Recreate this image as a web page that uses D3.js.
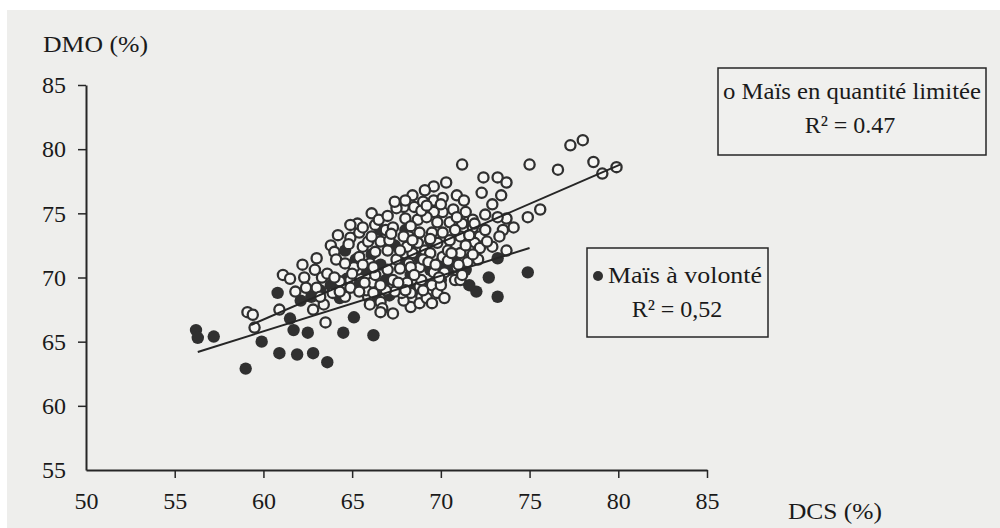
<!DOCTYPE html>
<html>
<head>
<meta charset="utf-8">
<script src="https://cdn.jsdelivr.net/npm/d3@7"></script>
<style>
  html, body { margin: 0; padding: 0; background: #ffffff; }
  svg { display: block; }
  text { font-family: "Liberation Serif", "Times New Roman", serif; fill: #1a1a1a; }
</style>
</head>
<body>
<svg id="chart" width="1000" height="528"></svg>
<script>
// ---- Data ----
const xTicks = [50, 55, 60, 65, 70, 75, 80, 85];
const yTicks = [55, 60, 65, 70, 75, 80, 85];

// Maïs en quantité limitée (open circles)
const limiteeDCS = [
  71.2, 75.0, 76.6, 77.3, 78.0, 78.6, 79.1, 79.9, 75.6, 74.9,
  72.4, 73.2, 73.7, 73.4, 72.3, 72.9, 73.7, 73.2, 72.5, 73.5,
  74.1, 73.3, 72.9, 73.7, 70.3, 69.6, 68.4, 70.9, 71.3, 68.5,
  69.0, 69.6, 70.1, 70.7, 71.4, 71.8, 70.1, 69.6, 67.9, 68.0,
  68.7, 69.2, 69.8, 70.5, 71.2, 71.8, 72.2, 71.9, 72.2, 71.6,
  71.1, 71.5, 70.9, 70.8, 70.2, 69.6, 68.8, 68.4, 69.1, 69.8,
  70.5, 71.1, 70.1, 69.5, 68.8, 68.2, 68.1, 68.7, 69.4, 70.1,
  68.2, 68.8, 69.5, 68.3, 68.9, 68.3, 68.1, 71.1, 63.8, 64.0,
  64.1, 64.9, 65.4, 65.3, 66.1, 66.3, 62.9, 63.3, 62.3, 63.6,
  63.9, 63.4, 62.8, 63.5, 67.5, 66.9, 67.3, 65.6, 65.4, 65.3,
  66.0, 66.1, 67.0, 67.5, 67.0, 68.3, 67.3, 67.9, 68.8, 66.6,
  66.7, 65.9, 64.9, 65.1, 66.6, 67.9, 68.4, 67.7, 69.0, 68.9,
  61.1, 61.8, 59.1, 59.5, 60.9, 59.4, 64.9, 64.6, 65.8, 66.2,
  66.6, 67.3, 67.8, 69.2, 69.8, 67.1, 67.4, 66.3, 65.7, 66.9,
  70.0, 70.4, 70.8, 71.4, 70.0, 69.1, 69.3, 68.5, 65.4, 64.3,
  64.6, 65.9, 66.3, 66.0, 69.5, 70.2, 71.6, 72.5, 72.1, 64.9,
  64.2, 67.4,
  63.0, 64.0, 64.8, 65.6, 66.5, 67.0, 68.0, 68.9, 69.4, 70.4,
  71.0, 71.8, 72.6, 71.2, 69.9, 69.0, 68.0, 67.6, 66.6, 66.2,
  65.0, 64.3, 63.2, 62.4, 61.5, 62.2, 63.0, 65.6, 67.7, 69.7,
  70.6, 71.9, 70.9, 69.2, 68.3, 67.2, 66.1
];
const limiteeDMO = [
  78.8, 78.8, 78.4, 80.3, 80.7, 79.0, 78.1, 78.6, 75.3, 74.7,
  77.8, 77.8, 77.4, 76.4, 76.6, 75.7, 74.6, 74.7, 74.9, 73.7,
  73.9, 73.2, 72.4, 72.1, 77.4, 77.1, 76.4, 76.4, 76.0, 75.5,
  75.9, 76.0, 76.2, 75.3, 75.1, 74.5, 75.1, 75.1, 75.5, 74.6,
  74.5, 74.7, 74.3, 74.3, 74.2, 73.9, 73.2, 72.7, 72.3, 72.1,
  71.9, 71.2, 70.8, 69.8, 70.4, 70.4, 70.8, 71.9, 72.1, 72.7,
  72.9, 73.2, 73.5, 73.5, 73.5, 73.2, 72.4, 72.7, 71.9, 71.6,
  71.1, 69.3, 69.4, 68.8, 68.5, 67.7, 69.6, 69.8, 72.5, 72.0,
  71.4, 73.1, 73.5, 74.2, 75.0, 74.1, 70.6, 70.0, 70.0, 70.3,
  68.8, 67.9, 67.5, 66.5, 75.4, 73.7, 73.9, 72.4, 71.6, 70.6,
  71.1, 69.6, 72.1, 71.4, 70.6, 70.8, 69.8, 68.2, 68.0, 68.1,
  67.6, 68.5, 69.8, 70.8, 72.8, 73.2, 72.9, 72.1, 71.4, 69.8,
  70.2, 68.9, 67.3, 66.1, 67.5, 67.1, 69.2, 68.5, 69.0, 68.8,
  67.3, 67.2, 68.8, 68.4, 68.8, 72.9, 68.9, 70.2, 69.6, 69.0,
  69.4, 72.1, 73.7, 72.5, 75.7, 76.8, 71.2, 70.2, 68.9, 69.7,
  71.1, 72.8, 72.0, 67.9, 68.0, 68.4, 73.3, 73.7, 71.4, 74.1,
  73.3, 75.9,
  69.2, 70.0, 72.6, 73.9, 74.5, 74.8, 76.0, 75.2, 73.0, 71.3,
  71.0, 71.8, 72.8, 70.2, 70.0, 69.0, 69.0, 69.6, 69.4, 70.8,
  70.3, 68.9, 68.5, 69.2, 69.9, 71.0, 71.5, 71.0, 70.7, 71.0,
  71.9, 74.2, 74.7, 75.6, 74.0, 73.4, 73.2
];

// Maïs à volonté (filled circles)
const volonteDCS = [
  56.2, 56.3, 57.2, 59.0, 59.9, 60.8, 60.9, 61.9, 62.8, 63.6,
  61.5, 61.7, 62.5, 64.5, 62.7, 65.1, 64.7, 66.2, 72.7, 72.0,
  73.2, 74.9, 73.2,
  65.2, 65.7, 66.1, 66.6, 66.9, 67.4, 67.7, 68.3, 68.8, 69.1,
  69.4, 70.0, 67.7, 67.1, 68.5, 70.0, 70.5, 70.8, 65.4, 66.3,
  64.6, 66.6, 68.0, 69.4, 71.4, 71.6, 63.8, 63.2, 62.1, 64.3
];
const volonteDMO = [
  65.9, 65.3, 65.4, 62.9, 65.0, 68.8, 64.1, 64.0, 64.1, 63.4,
  66.8, 65.9, 65.7, 65.7, 68.5, 66.9, 69.9, 65.5, 70.0, 68.9,
  68.5, 70.4, 71.5,
  71.4, 70.6, 71.8, 71.0, 69.8, 72.5, 71.2, 70.2, 71.5, 69.4,
  70.6, 71.2, 69.4, 68.6, 69.0, 69.8, 70.6, 71.8, 69.4, 68.6,
  72.1, 73.7, 73.7, 72.9, 70.6, 69.4, 69.4, 69.0, 68.2, 68.4
];

// Regression lines (end points)
const limiteeLineDCS = [59.3, 80.1];
const limiteeLineDMO = [66.3, 78.8];
const volonteLineDCS = [56.3, 75.0];
const volonteLineDMO = [64.2, 72.3];

const legendLimitee = ["o Maïs en quantité limitée", "R² = 0.47"];
const legendVolonte = ["Maïs à volonté", "R² = 0,52"];
const xTitle = "DCS (%)";
const yTitle = "DMO (%)";

// ---- Drawing ----
const svg = d3.select("#chart");
const ink = "#262626";

svg.append("rect").attr("x", 7).attr("y", 10).attr("width", 993).attr("height", 518)
  .attr("fill", "#eeeeec");

const x = d3.scaleLinear().domain([50, 85]).range([86, 707]);
const y = d3.scaleLinear().domain([55, 85]).range([470, 85]);

// axes
const xAxis = svg.append("g").attr("transform", "translate(0,470)")
  .call(d3.axisBottom(x).tickValues(xTicks).tickSize(8).tickSizeOuter(0).tickPadding(14));
const yAxis = svg.append("g").attr("transform", "translate(86,0)")
  .call(d3.axisLeft(y).tickValues(yTicks).tickSize(8).tickSizeOuter(0).tickPadding(12));

[xAxis, yAxis].forEach(g => {
  g.select(".domain").attr("stroke", ink).attr("stroke-width", 2);
  g.selectAll(".tick line").attr("stroke", ink).attr("stroke-width", 1.5);
  g.selectAll(".tick text").style("font-family", "'Liberation Serif', serif")
    .style("font-size", "24px").attr("fill", "#1a1a1a");
});
xAxis.selectAll(".tick line").filter(d => d === 50).remove();
yAxis.selectAll(".tick line").filter(d => d === 55).remove();

// axis titles
svg.append("text").attr("x", 43).attr("y", 52).style("font-size", "24px")
  .attr("textLength", 105).attr("lengthAdjust", "spacingAndGlyphs").text(yTitle);
svg.append("text").attr("x", 788).attr("y", 519).style("font-size", "24px")
  .attr("textLength", 94).attr("lengthAdjust", "spacingAndGlyphs").text(xTitle);

// points
const volonte = volonteDCS.map((d, i) => ({x: d, y: volonteDMO[i]}));
const limitee = limiteeDCS.map((d, i) => ({x: d, y: limiteeDMO[i]}));

svg.append("g").selectAll("circle").data(volonte).join("circle")
  .attr("cx", d => x(d.x)).attr("cy", d => y(d.y)).attr("r", 6.2)
  .attr("fill", "#303030");

svg.append("g").selectAll("circle").data(limitee).join("circle")
  .attr("cx", d => x(d.x)).attr("cy", d => y(d.y)).attr("r", 5.1)
  .attr("fill", "#f6f6f4").attr("stroke", "#303030").attr("stroke-width", 2.3);

// regression lines
const line = d3.line().x(d => x(d[0])).y(d => y(d[1]));
svg.append("path").datum(limiteeLineDCS.map((d, i) => [d, limiteeLineDMO[i]]))
  .attr("d", line).attr("stroke", ink).attr("stroke-width", 2).attr("fill", "none");
svg.append("path").datum(volonteLineDCS.map((d, i) => [d, volonteLineDMO[i]]))
  .attr("d", line).attr("stroke", ink).attr("stroke-width", 2).attr("fill", "none");

// legend boxes
const box1 = svg.append("g");
box1.append("rect").attr("x", 718).attr("y", 68).attr("width", 268).attr("height", 87)
  .attr("fill", "#f0f0ee").attr("stroke", ink).attr("stroke-width", 1.5);
box1.append("text").attr("x", 852).attr("y", 99).attr("text-anchor", "middle")
  .style("font-size", "24px").attr("textLength", 258).attr("lengthAdjust", "spacingAndGlyphs")
  .text(legendLimitee[0]);
box1.append("text").attr("x", 850).attr("y", 133).attr("text-anchor", "middle")
  .style("font-size", "24px").text(legendLimitee[1]);

const box2 = svg.append("g");
box2.append("rect").attr("x", 587).attr("y", 248).attr("width", 181).attr("height", 89)
  .attr("fill", "#f0f0ee").attr("stroke", ink).attr("stroke-width", 1.5);
box2.append("circle").attr("cx", 598).attr("cy", 276).attr("r", 5).attr("fill", "#303030");
box2.append("text").attr("x", 608).attr("y", 283)
  .style("font-size", "24px").attr("textLength", 154).attr("lengthAdjust", "spacingAndGlyphs")
  .text(legendVolonte[0]);
box2.append("text").attr("x", 677).attr("y", 317).attr("text-anchor", "middle")
  .style("font-size", "24px").text(legendVolonte[1]);
</script>
</body>
</html>
